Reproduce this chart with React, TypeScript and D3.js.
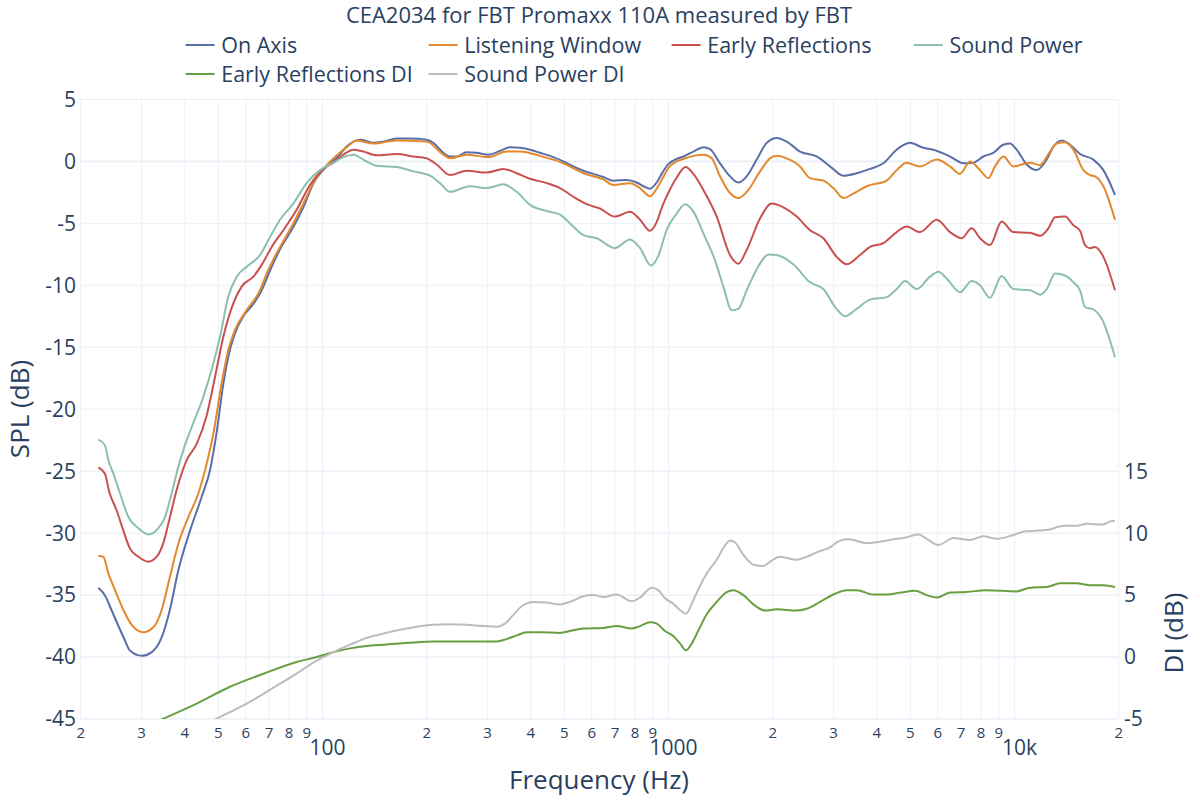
import React from "react";
import * as d3 from "d3";

type Pt = [number, number];

// [frequency Hz, SPL dB]
const ON_AXIS: Pt[] = [
  [22.5,-34.4],[23.7,-35.2],[24.2,-35.8],[26.6,-38.4],[27.8,-39.5],[30.0,-39.9],[32.1,-39.6],[34.3,-38.4],[36.2,-36.2],[38.3,-33.0],
  [41.4,-29.8],[44.7,-27.1],[47.3,-24.9],[49.4,-21.9],[51.7,-17.9],[54.0,-15.2],[55.8,-13.9],[59.0,-12.5],[63.1,-11.5],[66.7,-10.4],
  [70.5,-8.8],[75.3,-7.1],[82.3,-5.3],[88.0,-3.7],[94.0,-1.8],[102.8,-0.4],[111,0.4],[117.4,1.2],[125.5,1.7],[129.8,1.75],
  [140.2,1.5],[149.9,1.6],[163.8,1.85],[179.0,1.85],[200.0,1.75],[209.0,1.5],[223.4,0.7],[233.5,0.4],[244.1,0.4],[261.0,0.75],
  [279.0,0.7],[301.4,0.55],[325.7,0.85],[348.2,1.15],[372.1,1.1],[397.7,0.95],[425.1,0.7],[464.5,0.35],[496.5,0],[530.6,-0.4],
  [567.2,-0.75],[606.2,-1.0],[647.9,-1.25],[692.5,-1.55],[756.9,-1.5],[809.0,-1.7],[845.6,-2.0],[884,-2.2],[924,-1.7],[960,-0.9],
  [1000,-0.2],[1056,0.2],[1104,0.4],[1180,0.8],[1261,1.15],[1318,1.0],[1409,-0.15],[1505,-1.2],[1591,-1.7],[1682,-1.2],
  [1798,0.15],[1921,1.5],[2054,1.9],[2195,1.6],[2399,0.8],[2680,0.4],[2929,-0.4],[3201,-1.15],[3497,-0.95],[3822,-0.6],
  [4176,-0.15],[4564,0.95],[4987,1.5],[5450,1.1],[5825,0.95],[6509,0.4],[7112,-0.15],[7602,-0.1],[8127,0.4],[8684,0.7],
  [9282,1.35],[9703,1.45],[10144,0.95],[10842,-0.25],[11589,-0.7],[12388,0.15],[12950,1.2],[13688,1.7],[14468,1.35],[15465,0.6],
  [16899,0.15],[18062,-0.7],[19514,-2.7]
];

const LISTENING_WINDOW: Pt[] = [
  [22.5,-31.85],[23.25,-31.9],[24.04,-33.25],[25.13,-34.6],[26.57,-36.2],[28.08,-37.4],[30.34,-38.0],[32.43,-37.6],[34.28,-36.2],[36.23,-33.5],
  [38.3,-30.85],[40.94,-28.7],[43.75,-26.8],[46.25,-24.4],[48.34,-22.0],[51.1,-17.9],[53.42,-15.2],[55.84,-13.6],[60.36,-12.0],[65.24,-10.65],
  [69.72,-8.75],[74.51,-7.15],[81.42,-5.25],[87.99,-3.4],[95.09,-1.5],[102.8,-0.3],[110,0.5],[117.4,1.15],[125.5,1.7],[140.2,1.45],
  [163.8,1.7],[200.0,1.6],[223.4,0.55],[233.5,0.25],[261.0,0.55],[301.4,0.35],[340.5,0.8],[372.1,0.8],[425.1,0.45],[496.5,-0.15],
  [567.2,-0.95],[647.9,-1.45],[692.5,-1.9],[773.8,-1.75],[827.1,-2.15],[884,-2.8],[924,-2.2],[960,-1.4],[1000,-0.5],[1056,0.0],
  [1104,0.2],[1180,0.45],[1261,0.55],[1333,0.25],[1409,-1.2],[1505,-2.55],[1591,-2.95],[1701,-2.3],[1838,-0.8],[1965,0.25],
  [2054,0.45],[2195,0.25],[2399,-0.4],[2564,-1.35],[2802,-1.55],[2995,-2.15],[3201,-2.95],[3421,-2.6],[3738,-2.0],[4270,-1.55],
  [4564,-0.7],[4878,-0.1],[5330,-0.4],[5956,0.15],[6509,-0.4],[6956,-1.0],[7436,0],[7948,-0.7],[8401,-1.35],[8781,-0.4],
  [9282,0.4],[9920,-0.4],[11085,-0.1],[11850,-0.3],[12665,0.8],[13240,1.45],[13995,1.55],[14794,0.95],[15811,-0.7],[16529,-1.1],
  [17088,-1.2],[18062,-2.0],[19514,-4.7]
];

const EARLY_REFLECTIONS: Pt[] = [
  [22.5,-24.7],[23.5,-25.2],[24.2,-26.7],[25.4,-28.15],[26.57,-29.8],[27.77,-31.25],[29.36,-31.9],[31.37,-32.3],[33.16,-31.9],[34.66,-30.8],
  [36.23,-28.7],[37.88,-26.5],[40.49,-24.1],[43.27,-22.8],[46.25,-20.5],[48.88,-17.4],[51.67,-14.15],[55.23,-11.45],[58.38,-10.1],[63.11,-9.3],
  [66.7,-8.35],[71.28,-6.9],[77.03,-5.55],[84.18,-3.9],[91.98,-1.9],[100.5,-0.6],[107.5,-0.1],[114.9,0.55],[122.8,0.95],[131.2,0.8],
  [143.4,0.5],[163.8,0.6],[183.0,0.4],[200.0,0.25],[213.7,-0.25],[233.5,-1.1],[261.0,-0.75],[298.1,-0.9],[333.0,-0.6],[364.0,-0.95],
  [397.7,-1.4],[444.3,-1.75],[485.6,-2.15],[530.6,-2.85],[579.9,-3.45],[633.7,-3.8],[700.2,-4.45],[773.8,-4.05],[827.1,-4.7],[884,-5.6],
  [924,-4.9],[960,-3.6],[1000,-2.5],[1056,-1.3],[1120,-0.45],[1180,-1.0],[1261,-2.3],[1378,-4.45],[1505,-7.55],[1591,-8.25],
  [1682,-7.15],[1838,-4.6],[1987,-3.4],[2147,-3.7],[2346,-4.45],[2564,-5.55],[2802,-6.2],[3062,-7.7],[3272,-8.3],[3576,-7.55],
  [3822,-6.9],[4176,-6.6],[4564,-5.7],[4878,-5.25],[5330,-5.7],[5956,-4.7],[6509,-5.7],[7034,-6.2],[7519,-5.4],[7948,-6.2],
  [8495,-6.75],[9179,-4.85],[9920,-5.7],[11085,-5.75],[11850,-6.0],[12526,-5.4],[13094,-4.5],[13995,-4.45],[14794,-5.15],[15465,-5.6],
  [15988,-6.75],[16529,-7.0],[17088,-6.9],[18062,-7.7],[19514,-10.4]
];

const SOUND_POWER: Pt[] = [
  [22.5,-22.45],[23.5,-22.9],[24.04,-24.1],[24.86,-25.2],[25.99,-26.8],[27.47,-28.7],[29.36,-29.6],[31.37,-30.1],[33.53,-29.6],[35.05,-28.7],
  [36.63,-26.8],[38.3,-24.65],[39.6,-23.3],[42.32,-21.1],[45.23,-19.0],[47.81,-16.8],[50.54,-14.15],[53.42,-10.9],[56.47,-9.3],[60.36,-8.5],
  [65.97,-7.55],[70.5,-6.1],[75.34,-4.7],[82.33,-3.4],[89.97,-1.75],[98.31,-0.7],[107.4,-0.1],[114.9,0.35],[122.8,0.55],[131.2,0.15],
  [143.4,-0.35],[163.8,-0.45],[183.0,-0.8],[204.4,-1.15],[218.5,-1.75],[233.5,-2.45],[266.8,-2.0],[298.1,-2.15],[333.0,-1.85],[364.0,-2.45],
  [397.7,-3.5],[444.3,-4.0],[485.6,-4.3],[519.0,-5.0],[567.2,-5.95],[619.8,-6.2],[700.2,-7.0],[773.8,-6.3],[827.1,-7.0],[890,-8.4],
  [935,-7.6],[988,-5.5],[1056,-4.2],[1116,-3.45],[1180,-4.05],[1261,-5.8],[1363,-8.0],[1440,-10.1],[1522,-12.0],[1591,-11.9],
  [1682,-10.4],[1838,-8.25],[1943,-7.5],[2054,-7.55],[2294,-8.3],[2564,-9.75],[2802,-10.3],[3029,-11.75],[3236,-12.5],[3497,-11.9],
  [3822,-11.15],[4270,-10.95],[4564,-10.3],[4824,-9.65],[5213,-10.3],[5697,-9.3],[6023,-8.9],[6366,-9.45],[6956,-10.55],[7519,-9.65],
  [7948,-10.0],[8495,-11.0],[9179,-9.25],[9920,-10.3],[11085,-10.4],[11850,-10.75],[12388,-10.3],[13094,-9.05],[13995,-9.2],[14794,-9.75],
  [15465,-10.4],[15988,-11.75],[16899,-11.95],[17863,-12.7],[19514,-15.8]
];

// [frequency Hz, DI dB]
const EARLY_REFLECTIONS_DI: Pt[] = [
  [22.5,-7.4],[28,-6.1],[34.66,-4.98],[43.27,-3.76],[54.01,-2.4],[67.45,-1.35],[84.18,-0.4],[96.2,0],[107.5,0.4],[120.1,0.7],
  [134.1,0.9],[149.9,1.0],[167.5,1.1],[187.1,1.2],[209.0,1.25],[261.0,1.25],[318.6,1.25],[340.5,1.45],[364.0,1.75],[389.0,2.0],
  [425.1,2.0],[485.6,1.95],[519.0,2.1],[567.2,2.3],[647.9,2.35],[708.0,2.5],[782.5,2.3],[827.1,2.5],[884.0,2.8],[924.0,2.7],
  [976.6,2.1],[1032,1.7],[1079,1.1],[1123,0.55],[1167,1.1],[1220,2.15],[1289,3.45],[1378,4.45],[1472,5.25],[1540,5.4],
  [1646,5.0],[1759,4.25],[1900,3.75],[2054,3.85],[2346,3.75],[2508,3.9],[2740,4.45],[2994,5.05],[3272,5.4],[3497,5.4],
  [3909,5.05],[4271,5.05],[4666,5.2],[5156,5.35],[5572,5.0],[5956,4.8],[6508,5.2],[7271,5.25],[8307,5.4],[10143,5.3],
  [11085,5.6],[12385,5.65],[13533,5.95],[15123,5.95],[16528,5.8],[18062,5.8],[19520,5.65]
];

const SOUND_POWER_DI: Pt[] = [
  [22.5,-9.8],[35,-7.1],[49.43,-4.98],[60.36,-3.76],[75.34,-2.15],[86.1,-1.15],[94.04,-0.45],[107.5,0.4],[120.1,1.0],[134.1,1.55],
  [149.9,1.9],[167.5,2.2],[187.1,2.45],[209.0,2.6],[233.5,2.65],[261.0,2.6],[291.6,2.5],[318.6,2.45],[336.8,2.7],[356.0,3.4],
  [380.5,4.2],[406.6,4.45],[444.3,4.4],[485.6,4.25],[519.0,4.45],[567.2,4.9],[606.2,5.0],[647.9,4.85],[708.0,5.05],[782.5,4.5],
  [827.1,4.8],[893.8,5.6],[934.3,5.4],[976.6,4.75],[1032,4.3],[1079,3.8],[1123,3.5],[1180,4.6],[1233,5.75],[1289,6.75],
  [1378,7.85],[1440,8.8],[1506,9.4],[1557,9.25],[1646,8.25],[1759,7.45],[1879,7.35],[1965,7.7],[2100,8.1],[2346,7.85],
  [2508,8.1],[2680,8.45],[2929,8.85],[3130,9.4],[3309,9.5],[3739,9.2],[4086,9.3],[4464,9.5],[4771,9.6],[5272,9.9],
  [5634,9.45],[6022,9.05],[6654,9.6],[7434,9.45],[8125,9.75],[8879,9.55],[9920,9.85],[10722,10.15],[11589,10.2],[12663,10.3],
  [13837,10.6],[15123,10.6],[16165,10.75],[18062,10.7],[18881,10.95],[19520,11.0]
];

const SERIES_NAMES = ["On Axis", "Listening Window", "Early Reflections", "Sound Power", "Early Reflections DI", "Sound Power DI"];
const SERIES_COLORS = ["#5b6ea7", "#e3892b", "#c8504e", "#8cbfae", "#6a9e40", "#bcbcbc"];

const X_MINOR_TICKS = [20, 30, 40, 50, 60, 70, 80, 90, 200, 300, 400, 500, 600, 700, 800, 900,
  2000, 3000, 4000, 5000, 6000, 7000, 8000, 9000, 20000];
const X_MINOR_LABELS = ["2", "3", "4", "5", "6", "7", "8", "9", "2", "3", "4", "5", "6", "7", "8", "9",
  "2", "3", "4", "5", "6", "7", "8", "9", "2"];
const X_MAJOR_TICKS = [100, 1000, 10000];
const X_MAJOR_LABELS = ["100", "1000", "10k"];
const SPL_TICKS = [-45, -40, -35, -30, -25, -20, -15, -10, -5, 0, 5];
const DI_TICKS = [-5, 0, 5, 10, 15];

const TITLE = "CEA2034 for FBT Promaxx 110A measured by FBT";
const TEXT = "#2a3f5f";
const GRID = "#ebf0f8";
const FONT = "'Open Sans', 'Noto Sans', sans-serif";

export default function App() {
  const L = 80.7, R = 1118.7, T = 99.5, B = 719;
  const x = d3.scaleLog().domain([20, 20000]).range([L, R]);
  const y = d3.scaleLinear().domain([-45, 5]).range([B, T]);
  const y2 = d3.scaleLinear().domain([-5, 45]).range([B, T]);

  const lineSpl = d3.line<Pt>().x(d => x(d[0])).y(d => y(d[1])).curve(d3.curveMonotoneX);
  const lineDi = d3.line<Pt>().x(d => x(d[0])).y(d => y2(d[1])).curve(d3.curveMonotoneX);

  const splSeries = [ON_AXIS, LISTENING_WINDOW, EARLY_REFLECTIONS, SOUND_POWER];
  const diSeries = [EARLY_REFLECTIONS_DI, SOUND_POWER_DI];

  const legendCols = [185.6, 428.6, 671.6, 913.8];
  const legendRows = [45, 74];

  return (
    <svg width={1200} height={800} style={{ position: "absolute", left: 0, top: 0, background: "#fff" }}
      fontFamily={FONT}>
      <defs>
        <clipPath id="plotclip">
          <rect x={L} y={T} width={R - L} height={B - T} />
        </clipPath>
      </defs>
      <rect x={0} y={0} width={1200} height={800} fill="#fff" />
      {/* grid */}
      {[...X_MINOR_TICKS, ...X_MAJOR_TICKS].map((t, i) => (
        <line key={"gx" + i} x1={x(t)} x2={x(t)} y1={T} y2={B} stroke={GRID} strokeWidth={1} />
      ))}
      {SPL_TICKS.map((t, i) => (
        <line key={"gy" + i} x1={L} x2={R} y1={y(t)} y2={y(t)} stroke={GRID} strokeWidth={t === 0 ? 2 : 1} />
      ))}
      {DI_TICKS.map((t, i) => (
        <line key={"gy2" + i} x1={L} x2={R} y1={y2(t)} y2={y2(t)} stroke={GRID} strokeWidth={1} />
      ))}
      {/* lines */}
      <g clipPath="url(#plotclip)" fill="none" strokeWidth={2} strokeLinejoin="round">
        {splSeries.map((s, i) => (
          <path key={"s" + i} d={lineSpl(s) || ""} stroke={SERIES_COLORS[i]} />
        ))}
        {diSeries.map((s, i) => (
          <path key={"d" + i} d={lineDi(s) || ""} stroke={SERIES_COLORS[4 + i]} />
        ))}
      </g>
      {/* left axis labels */}
      {SPL_TICKS.map((t, i) => (
        <text key={"ly" + i} x={76} y={y(t)} dy="0.35em" textAnchor="end" fontSize={21} fill={TEXT}>{t}</text>
      ))}
      {/* right axis labels */}
      {DI_TICKS.map((t, i) => (
        <text key={"ry" + i} x={1124} y={y2(t)} dy="0.35em" textAnchor="start" fontSize={21} fill={TEXT}>{t}</text>
      ))}
      {/* x axis labels */}
      {X_MINOR_TICKS.map((t, i) => (
        <text key={"xm" + i} x={x(t)} y={738} textAnchor="middle" fontSize={15} fill={TEXT}>{X_MINOR_LABELS[i]}</text>
      ))}
      {X_MAJOR_TICKS.map((t, i) => (
        <text key={"xM" + i} x={x(t) + 5} y={755} textAnchor="middle" fontSize={21} fill={TEXT}>{X_MAJOR_LABELS[i]}</text>
      ))}
      {/* axis titles */}
      <text x={599} y={789} textAnchor="middle" fontSize={26} fill={TEXT}>Frequency (Hz)</text>
      <text transform="translate(29,409) rotate(-90)" textAnchor="middle" fontSize={26} fill={TEXT}>SPL (dB)</text>
      <text transform="translate(1183,633) rotate(-90)" textAnchor="middle" fontSize={26} fill={TEXT}>DI (dB)</text>
      {/* title */}
      <text x={599} y={23} textAnchor="middle" fontSize={22} fill={TEXT}>{TITLE}</text>
      {/* legend */}
      {SERIES_NAMES.map((name, i) => {
        const col = i < 4 ? i : i - 4;
        const row = i < 4 ? 0 : 1;
        const lx = legendCols[col];
        const ly = legendRows[row];
        return (
          <g key={"lg" + i}>
            <line x1={lx} x2={lx + 29} y1={ly} y2={ly} stroke={SERIES_COLORS[i]} strokeWidth={2} />
            <text x={lx + 35.6} y={ly} dy="0.36em" fontSize={21.5} fill={TEXT}>{name}</text>
          </g>
        );
      })}
    </svg>
  );
}
